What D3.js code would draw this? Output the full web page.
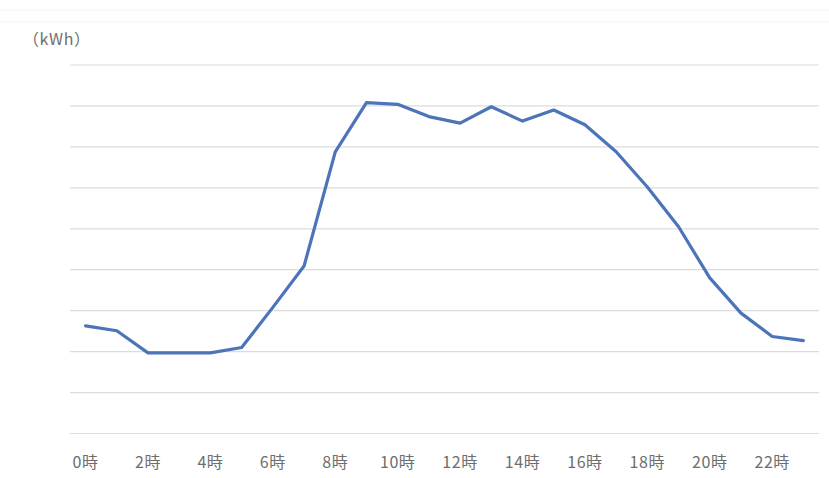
<!DOCTYPE html>
<html>
<head>
<meta charset="utf-8">
<script src="https://cdn.jsdelivr.net/npm/d3@7"></script>
<style>
  html, body { margin: 0; padding: 0; background: #fff; }
  svg { display: block; }
</style>
</head>
<body>
<svg id="chart" width="829" height="478"></svg>
<script>
// Hourly electricity use over one day
const hours = d3.range(24);
const hourLabels = hours.map(h => h + "時");
const tickHours = [0, 2, 4, 6, 8, 10, 12, 14, 16, 18, 20, 22];
const usage = [2.63, 2.51, 1.97, 1.97, 1.97, 2.10, 3.08, 4.09, 6.88, 8.08, 8.04, 7.74,
               7.58, 7.98, 7.63, 7.90, 7.54, 6.88, 6.02, 5.05, 3.80, 2.94, 2.37, 2.27];
const gridValues = d3.range(0, 10);
const unitLabel = "（kWh）";

const svg = d3.select("#chart");
const W = 829, H = 478;
const plotLeft = 70, plotRight = 819, plotTop = 65, plotBottom = 433.5;
const font = "'Noto Sans CJK JP', 'Noto Sans', sans-serif";

// faint frame lines across the top
svg.append("g").selectAll("line").data([10, 22]).join("line")
  .attr("x1", 0).attr("x2", W).attr("y1", d => d).attr("y2", d => d)
  .attr("stroke", "#f3f3f3").attr("stroke-width", 1);

const x = d3.scaleBand().domain(hours).range([plotLeft, plotRight]);
const y = d3.scaleLinear().domain([0, 9]).range([plotBottom, plotTop]);

// horizontal gridlines
svg.append("g").selectAll("line").data(gridValues).join("line")
  .attr("x1", plotLeft).attr("x2", plotRight)
  .attr("y1", d => y(d)).attr("y2", d => y(d))
  .attr("stroke", "#dcdcdc").attr("stroke-width", 1.2);

// hour labels along the bottom
const xAxis = d3.axisBottom(x).tickValues(tickHours).tickFormat(d => hourLabels[d]).tickSize(0).tickPadding(0);
const gx = svg.append("g").attr("transform", `translate(0,${plotBottom})`).call(xAxis);
gx.select(".domain").remove();
gx.selectAll("text")
  .attr("dy", 0).attr("y", 34)
  .attr("fill", "#6e6e6e")
  .style("font-family", font).style("font-size", "16px")
  .style("letter-spacing", "0.6px");

// unit label
svg.append("text").attr("x", 23).attr("y", 45)
  .attr("fill", "#6e6e6e")
  .style("font-family", font).style("font-size", "16px")
  .style("letter-spacing", "0.6px")
  .text(unitLabel);

// usage line
const line = d3.line()
  .x((d, i) => x(hours[i]) + x.bandwidth() / 2)
  .y(d => y(d));
svg.append("path").datum(usage)
  .attr("d", line)
  .attr("fill", "none")
  .attr("stroke", "#4d74b8")
  .attr("stroke-width", 3.2)
  .attr("stroke-linejoin", "round")
  .attr("stroke-linecap", "round");
</script>
</body>
</html>
